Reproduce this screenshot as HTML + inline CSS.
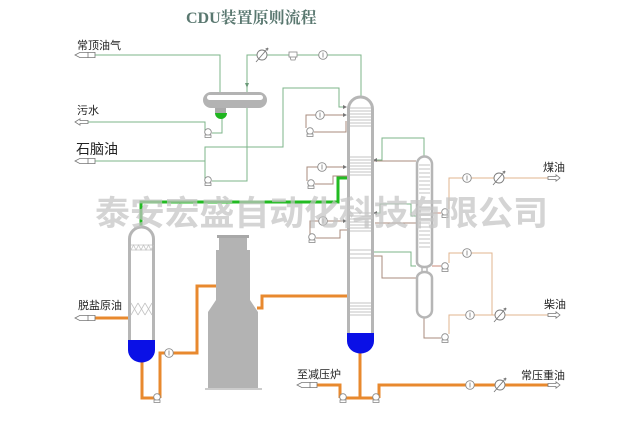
<!DOCTYPE html>
<html><head><meta charset="utf-8"><style>
html,body{margin:0;padding:0;background:#fff;}
svg{display:block;}
.t{font-family:"Liberation Sans","Noto Sans CJK SC",sans-serif;fill:#222;}
</style></head><body>
<svg width="640" height="431" viewBox="0 0 640 431" xmlns="http://www.w3.org/2000/svg">
<defs>
<g id="pump"><circle cx="0" cy="-1" r="3.3" fill="#fff" stroke="#8a8a8a" stroke-width="0.9"/><rect x="-3" y="2" width="6" height="2.5" fill="#fff" stroke="#8a8a8a" stroke-width="0.8"/></g>
<g id="inst"><circle cx="0" cy="0" r="4.3" fill="#fff" stroke="#8a8a8a" stroke-width="0.9"/><line x1="0" y1="-2.5" x2="0" y2="2.5" stroke="#8a8a8a" stroke-width="0.9"/></g>
<g id="cond"><circle cx="0" cy="0" r="5" fill="#fff" stroke="#7a7a7a" stroke-width="0.9"/><line x1="-6" y1="7" x2="6" y2="-7" stroke="#7a7a7a" stroke-width="0.9"/><path d="M6 -7 L3.5 -6 M6 -7 L5.5 -4.5" stroke="#7a7a7a" stroke-width="0.9" fill="none"/></g>
<g id="pen"><path d="M0 0 L5 -2.6 H20 V2.6 H5 Z" fill="#fff" stroke="#777" stroke-width="0.8"/><line x1="13" y1="-2.6" x2="13" y2="2.6" stroke="#777" stroke-width="0.8"/></g>
<g id="rarr"><path d="M0 -1.5 H8 V-3.2 L12 0 L8 3.2 V1.5 H0 Z" fill="#fff" stroke="#777" stroke-width="0.8"/></g>
</defs>

<!-- title -->
<text x="186" y="23" font-family="'Liberation Serif','Noto Serif CJK SC',serif" font-weight="bold" font-size="16" fill="#5a7870">CDU装置原则流程</text>

<!-- thin green lines -->
<g fill="none" stroke="#7cb48a" stroke-width="1">
<path d="M95 55 H220 V92"/>
<path d="M361 97 V55 H247 V181 H212"/>
<path d="M205 181 V147 H283 V88 H339 V107 H345"/>
<path d="M95 161 H205"/>
<path d="M222 118 V133 H212"/>
<path d="M205 133 V122 H88"/>
<path d="M424 156 V138 H382 V160 H375"/>
<path d="M375 213 H380 V204 H411 V216 H416"/>
<path d="M373 252 H411 V266 H416"/>
</g>
<path d="M247 88 l-2 -5 h4 z" fill="#6a9a78"/>
<path d="M347 107 l-4 -2 v4 z" fill="#777"/>

<!-- brown lines near column -->
<g fill="none" stroke="#a88b7c" stroke-width="1">
<path d="M314 132 H346 V121"/>
<path d="M306 128 V115 H345"/>
<path d="M307 181 V167 H345"/>
<path d="M315 184 H333 V176 H347"/>
<path d="M310 235 V221 H345"/>
<path d="M316 238 H340 V230 H347"/>
<path d="M373 161 H416"/>
<path d="M375 223 H416"/>
<path d="M373 256 H382 V278 H416"/>
<path d="M424 318 V338 H441"/>
</g>
<g fill="none" stroke="#c98a78" stroke-width="1">
<path d="M432 213 H441"/>
<path d="M432 266 H441"/>
</g>
<g fill="#777">
<path d="M347 115 l-4 -2 v4 z"/><path d="M347 167 l-4 -2 v4 z"/><path d="M347 221 l-4 -2 v4 z"/>
<path d="M373 160 l4 -2 v4 z"/><path d="M373 213 l4 -2 v4 z"/>
</g>

<!-- right tan lines -->
<g fill="none" stroke="#e0b48f" stroke-width="1">
<path d="M449 209 V178 H548"/>
<path d="M449 263 V253 H492 V315"/>
<path d="M449 334 V315 H548"/>
</g>

<!-- heavy orange -->
<g fill="none" stroke="#e8892e" stroke-width="3">
<path d="M95 318 H129"/>
<path d="M142 362 V398 H154"/>
<path d="M160 398 V353 H197 V286 H217"/>
<path d="M257 308 H262 V296 H347"/>
<path d="M360 352 V398"/>
<path d="M340 398 H379"/>
<path d="M340 398 V385 H315"/>
<path d="M379 398 V385 H548"/>
</g>

<!-- heavy green -->
<path d="M141 226 V202 H338 V178 H348" fill="none" stroke="#22bb22" stroke-width="3"/>

<!-- drum -->
<rect x="203" y="92" width="64" height="16" rx="8" fill="#b3b3b3"/>
<rect x="207" y="95" width="56" height="5" rx="2.5" fill="#fff"/>
<rect x="215" y="108" width="11" height="5" fill="#aaa"/>
<path d="M215 113 H227 A6 6 0 0 1 215 113 Z" fill="#1fb51f"/>

<!-- main column -->
<path d="M348.5 341 V109 A12 12 0 0 1 372.5 109 V341" fill="#fff" stroke="#b6b6b6" stroke-width="3"/>
<path d="M347 333 H374 V341 A13.5 12.5 0 0 1 347 341 Z" fill="#0a10e6"/>
<g stroke="#b0b0b0" stroke-width="0.8">
<path d="M350 108H371M350 111H371M350 114H371M350 117H371M350 120H371M350 123H371M350 126H371"/>
<path d="M350 157H371M350 160H371M350 163H371M350 166H371M350 169H371M350 172H371M350 175H371"/>
<path d="M350 213H371M350 216H371M350 219H371M350 222H371M350 225H371M350 228H371M350 231H371"/>
<path d="M350 250H371M350 254H371M350 258H371"/>
<path d="M350 303H371M350 306H371M350 309H371M350 312H371M350 315H371"/>
</g>

<!-- stripper -->
<path d="M417 262 V164 A7.5 7.5 0 0 1 432 164 V262 A7.5 5 0 0 1 417 262" fill="#fff" stroke="#b6b6b6" stroke-width="2.5"/>
<path d="M417 310 V278 A7.5 6 0 0 1 432 278 V310 A7.5 7.5 0 0 1 417 310" fill="#fff" stroke="#b6b6b6" stroke-width="2.5"/>
<path d="M422 266 V273 M427 266 V273" stroke="#b6b6b6" stroke-width="1.5"/>
<g stroke="#b0b0b0" stroke-width="0.8">
<path d="M419 165H430M419 169H430M419 173H430M419 177H430M419 181H430M419 185H430M419 189H430M419 193H430"/>
<path d="M419 207H430M419 211H430M419 215H430M419 219H430M419 223H430M419 227H430M419 231H430M419 235H430M419 239H430M419 243H430M419 247H430"/>
</g>

<!-- desalter -->
<path d="M129.5 340 V239 A12 12 0 0 1 153.5 239 V340" fill="#fff" stroke="#b6b6b6" stroke-width="3"/>
<path d="M128 340 H155 V350 A13.5 12.5 0 0 1 128 350 Z" fill="#0a10e6"/>
<g stroke="#c4c4c4" stroke-width="0.8" fill="none">
<path d="M131 245 H152 M131 250 H152"/>
<path d="M131 250 l2.5 -5 l2.5 5 l2.5 -5 l2.5 5 l2.5 -5 l2.5 5 l2.5 -5 l2.5 5 l2.5 -5"/>
<path d="M131 303 l7 12 M138 303 l7 12 M145 303 l7 12 M138 303 l-7 12 M145 303 l-7 12 M152 303 l-7 12"/>
</g>

<!-- furnace -->
<rect x="217" y="235" width="32" height="3" fill="#a8a8a8"/>
<polygon points="219,238 247,238 247,250 250,250 250,300 258,312 258,388 208,388 208,312 216,300 216,250 219,250" fill="#b3b3b3"/>
<line x1="205" y1="389" x2="262" y2="389" stroke="#999" stroke-width="1"/>

<!-- symbols -->
<use href="#cond" x="262" y="55"/>
<rect x="289" y="52" width="8" height="5" fill="#fff" stroke="#888" stroke-width="0.8"/>
<path d="M290 57 L291 60 H295 L296 57" fill="none" stroke="#888" stroke-width="0.8"/>
<use href="#inst" x="323" y="55"/>
<use href="#pump" x="208" y="133"/>
<use href="#pump" x="208" y="181"/>
<use href="#pump" x="310" y="132"/>
<use href="#pump" x="311" y="184"/>
<use href="#pump" x="312" y="238"/>
<use href="#inst" x="320" y="115"/>
<use href="#inst" x="322" y="167"/>
<use href="#inst" x="323" y="221"/>
<use href="#pump" x="445" y="213"/>
<use href="#pump" x="445" y="267"/>
<use href="#pump" x="445" y="338"/>
<use href="#inst" x="467" y="178"/>
<use href="#cond" x="499" y="178"/>
<use href="#inst" x="467" y="253"/>
<use href="#inst" x="470" y="315"/>
<use href="#cond" x="500" y="315"/>
<use href="#pump" x="157" y="398"/>
<use href="#inst" x="169" y="353"/>
<use href="#pump" x="343" y="398"/>
<use href="#pump" x="376" y="398"/>
<use href="#inst" x="470" y="385"/>
<use href="#cond" x="500" y="385"/>

<!-- outlets -->
<use href="#pen" x="75" y="55"/>
<path d="M75 122 L80 118.8 V120.5 H88 V123.5 H80 V125.2 Z" fill="#fff" stroke="#777" stroke-width="0.8"/>
<use href="#pen" x="75" y="161"/>
<use href="#pen" x="75" y="318"/>
<use href="#pen" x="297" y="385"/>
<use href="#rarr" x="548" y="178"/>
<use href="#rarr" x="548" y="315"/>
<use href="#rarr" x="548" y="385"/>

<!-- labels -->
<text class="t" x="77" y="49" font-size="11">常顶油气</text>
<text class="t" x="77" y="114" font-size="11">污水</text>
<text class="t" x="76" y="154" font-size="14">石脑油</text>
<text class="t" x="78" y="309" font-size="11">脱盐原油</text>
<text class="t" x="297" y="378" font-size="11">至减压炉</text>
<text class="t" x="543" y="171" font-size="11">煤油</text>
<text class="t" x="544" y="308" font-size="11">柴油</text>
<text class="t" x="521" y="379" font-size="11">常压重油</text>

<!-- watermark -->
<text x="95" y="225" font-family="'Noto Sans CJK SC','WenQuanYi Zen Hei',sans-serif" font-weight="bold" font-size="34" fill="#c4c4c4" fill-opacity="0.72" textLength="453" lengthAdjust="spacingAndGlyphs">泰安宏盛自动化科技有限公司</text>
</svg>
</body></html>
